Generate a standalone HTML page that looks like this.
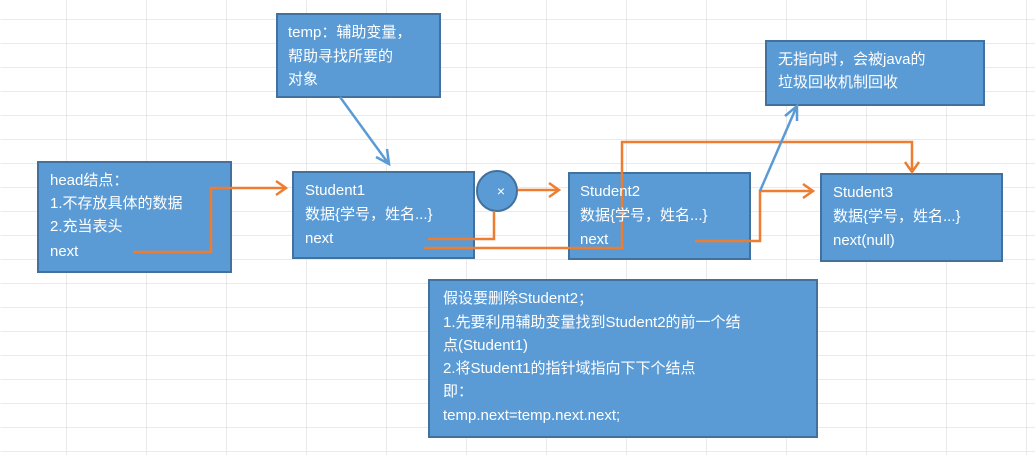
<!DOCTYPE html>
<html><head><meta charset="utf-8"><style>
html,body{margin:0;padding:0;background:#fff;}
svg{display:block;}
text{font-family:"Liberation Sans","Noto Sans CJK SC",sans-serif;font-size:15px;fill:#fff;}
</style></head><body>
<svg width="1035" height="455" xmlns="http://www.w3.org/2000/svg">
<defs>
<pattern id="g" x="66" y="19" width="80" height="24" patternUnits="userSpaceOnUse">
<path d="M0 0H80M0 0V24" stroke="#d4d4d4" stroke-width="1" fill="none"/>
</pattern>
</defs>
<rect x="0" y="0" width="1035" height="455" fill="#fff"/>
<rect x="0" y="0" width="1035" height="455" fill="url(#g)" transform="translate(0.5,0.5)"/>
<g fill="#5b9bd5" stroke="#41719c" stroke-width="2">
<rect x="277" y="14" width="163" height="83"/>
<rect x="38" y="162" width="193" height="110"/>
<rect x="293" y="172" width="181" height="86"/>
<circle cx="497" cy="191" r="20"/>
<rect x="569" y="173" width="181" height="86"/>
<rect x="821" y="174" width="181" height="87"/>
<rect x="766" y="41" width="218" height="64"/>
<rect x="429" y="280" width="388" height="157"/>
</g>
<text x="501" y="196" font-size="14" text-anchor="middle" style="font-size:14px">×</text>
<g fill="none" stroke="#ed7d31" stroke-width="2.5">
<path d="M133 252H211V188H284"/><path d="M276 181L286 188L276 195"/>
<path d="M428 239H494V211"/>
<path d="M518 190H558"/><path d="M549 183L559 190L549 197"/>
<path d="M424 248H622V142H912V170"/><path d="M905 162L912 172L919 162"/>
<path d="M695 241H760V191H812"/><path d="M803 184L813 191L803 198"/>
</g>
<g fill="none" stroke="#5b9bd5" stroke-width="2.5">
<path d="M760 191L796 108"/><path d="M785 116L797 106L797 121"/>
<path d="M340 97L388 163"/><path d="M376 157L389 164L387 149"/>
</g>
<text x="288" y="37">temp：辅助变量，</text>
<text x="288" y="61">帮助寻找所要的</text>
<text x="288" y="84">对象</text>
<text x="50" y="185">head结点：</text>
<text x="50" y="208">1.不存放具体的数据</text>
<text x="50" y="231">2.充当表头</text>
<text x="50" y="256">next</text>
<text x="305" y="195">Student1</text>
<text x="305" y="219">数据{学号，姓名...}</text>
<text x="305" y="243">next</text>
<text x="580" y="196">Student2</text>
<text x="580" y="220">数据{学号，姓名...}</text>
<text x="580" y="244">next</text>
<text x="833" y="197">Student3</text>
<text x="833" y="221">数据{学号，姓名...}</text>
<text x="833" y="245">next(null)</text>
<text x="778" y="64">无指向时，会被java的</text>
<text x="778" y="87">垃圾回收机制回收</text>
<text x="443" y="303">假设要删除Student2；</text>
<text x="443" y="327">1.先要利用辅助变量找到Student2的前一个结</text>
<text x="443" y="350">点(Student1)</text>
<text x="443" y="373">2.将Student1的指针域指向下下个结点</text>
<text x="443" y="396">即：</text>
<text x="443" y="420">temp.next=temp.next.next;</text>
</svg>
</body></html>
